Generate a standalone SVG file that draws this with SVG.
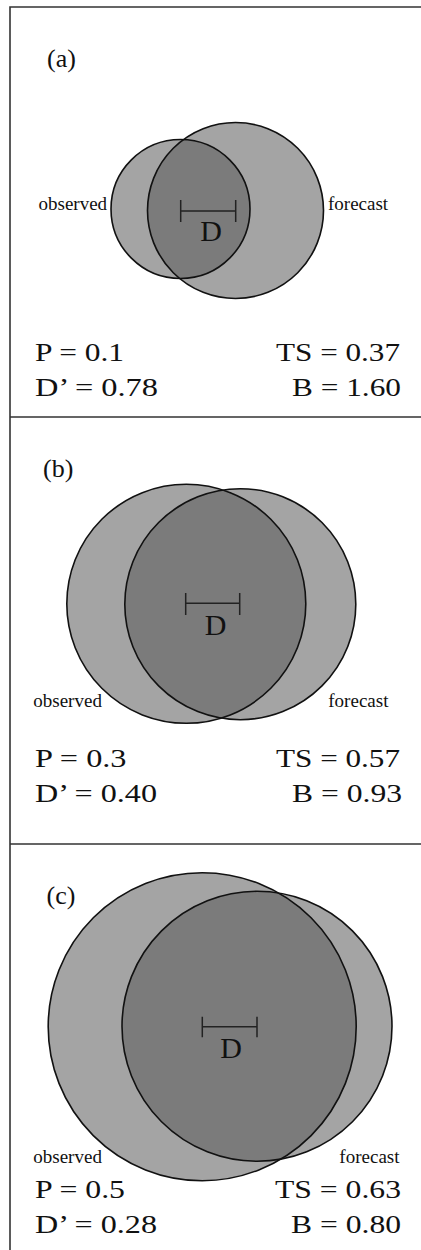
<svg xmlns="http://www.w3.org/2000/svg" width="421" height="1250" viewBox="0 0 421 1250">
<style>
.bg{fill:#ffffff}
.frame{stroke:#333333;stroke-width:1.6;fill:none}
.lt{fill:#a4a4a4;stroke:none}
.dk{fill:#7b7b7b;stroke:none}
.ring{fill:none;stroke:#111111;stroke-width:1.6}
.bar{stroke:#222222;stroke-width:1.5;fill:none}
.lab{font-family:"Liberation Serif","Times New Roman",serif;font-size:26px;fill:#111111}
.dl{font-family:"Liberation Serif","Times New Roman",serif;font-size:30px;fill:#111111;text-anchor:middle}
.cl{font-family:"Liberation Serif","Times New Roman",serif;font-size:19px;fill:#111111}
.st{font-family:"Liberation Serif","Times New Roman",serif;font-size:25px;fill:#111111}
.r{text-anchor:end}
</style>
<defs>
<clipPath id="fa"><circle cx="235.5" cy="210.5" r="88"/></clipPath>
<clipPath id="fb"><circle cx="240.3" cy="604.2" r="115.5"/></clipPath>
<clipPath id="fc"><circle cx="257" cy="1026.3" r="135"/></clipPath>
</defs>
<rect class="bg" x="0" y="0" width="421" height="1250"/>
<g id="frames">
<path class="frame" d="M10,1250 V7 H421 M10,417 H421 M10,844 H421"/>
</g>

<g id="panel-a">
<text class="lab" x="47" y="67">(a)</text>
<g id="a-observed"><circle class="lt" cx="180.5" cy="209" r="69.5"/></g>
<g id="a-forecast"><circle class="lt" cx="235.5" cy="210.5" r="88"/></g>
<circle class="dk" cx="180.5" cy="209" r="69.5" clip-path="url(#fa)"/>
<circle class="ring" cx="180.5" cy="209" r="69.5"/>
<circle class="ring" cx="235.5" cy="210.5" r="88"/>
<text class="cl" x="38.5" y="209.5">observed</text>
<text class="cl" x="328" y="209.5">forecast</text>
<text class="dl" x="211" y="241">D</text>
<text class="st" x="35" y="360.7" textLength="89" lengthAdjust="spacingAndGlyphs">P = 0.1</text>
<text class="st" x="35" y="396" textLength="123" lengthAdjust="spacingAndGlyphs">D’ = 0.78</text>
<text class="st r" x="400" y="360.7" textLength="124" lengthAdjust="spacingAndGlyphs">TS = 0.37</text>
<text class="st r" x="401" y="396" textLength="109" lengthAdjust="spacingAndGlyphs">B = 1.60</text>
</g>

<g id="panel-b">
<text class="lab" x="43" y="477">(b)</text>
<g id="b-observed"><circle class="lt" cx="186.3" cy="603.8" r="119.5"/></g>
<g id="b-forecast"><circle class="lt" cx="240.3" cy="604.2" r="115.5"/></g>
<circle class="dk" cx="186.3" cy="603.8" r="119.5" clip-path="url(#fb)"/>
<circle class="ring" cx="186.3" cy="603.8" r="119.5"/>
<circle class="ring" cx="240.3" cy="604.2" r="115.5"/>
<text class="cl" x="33.3" y="707.3">observed</text>
<text class="cl" x="328.3" y="707.3">forecast</text>
<text class="dl" x="215.5" y="635">D</text>
<text class="st" x="35" y="766.7" textLength="91.5" lengthAdjust="spacingAndGlyphs">P = 0.3</text>
<text class="st" x="35" y="801.7" textLength="122" lengthAdjust="spacingAndGlyphs">D’ = 0.40</text>
<text class="st r" x="400" y="766.7" textLength="124" lengthAdjust="spacingAndGlyphs">TS = 0.57</text>
<text class="st r" x="402" y="801.7" textLength="110" lengthAdjust="spacingAndGlyphs">B = 0.93</text>
</g>

<g id="panel-c">
<g id="c-observed"><circle class="lt" cx="202.2" cy="1026.7" r="154"/></g>
<g id="c-forecast"><circle class="lt" cx="257" cy="1026.3" r="135"/></g>
<circle class="dk" cx="202.2" cy="1026.7" r="154" clip-path="url(#fc)"/>
<circle class="ring" cx="202.2" cy="1026.7" r="154"/>
<circle class="ring" cx="257" cy="1026.3" r="135"/>
<text class="lab" x="46.5" y="904">(c)</text>
<text class="cl" x="33.3" y="1163.3">observed</text>
<text class="cl r" x="399.5" y="1163.3">forecast</text>
<text class="dl" x="231" y="1058.3">D</text>
<text class="st" x="35" y="1198.3" textLength="90" lengthAdjust="spacingAndGlyphs">P = 0.5</text>
<text class="st" x="35" y="1232.7" textLength="122" lengthAdjust="spacingAndGlyphs">D’ = 0.28</text>
<text class="st r" x="401" y="1198.3" textLength="126" lengthAdjust="spacingAndGlyphs">TS = 0.63</text>
<text class="st r" x="401" y="1232.7" textLength="110" lengthAdjust="spacingAndGlyphs">B = 0.80</text>
</g>

<g id="connectors">
<path class="bar" d="M180.7,211 H235.7 M180.7,200 V222 M235.7,200 V222"/>
<path class="bar" d="M185.7,603.3 H239.7 M185.7,593 V615 M239.7,593 V615"/>
<path class="bar" d="M202.3,1026.7 H257 M202.3,1016.7 V1037.3 M257,1016.7 V1037.3"/>
</g>
</svg>
